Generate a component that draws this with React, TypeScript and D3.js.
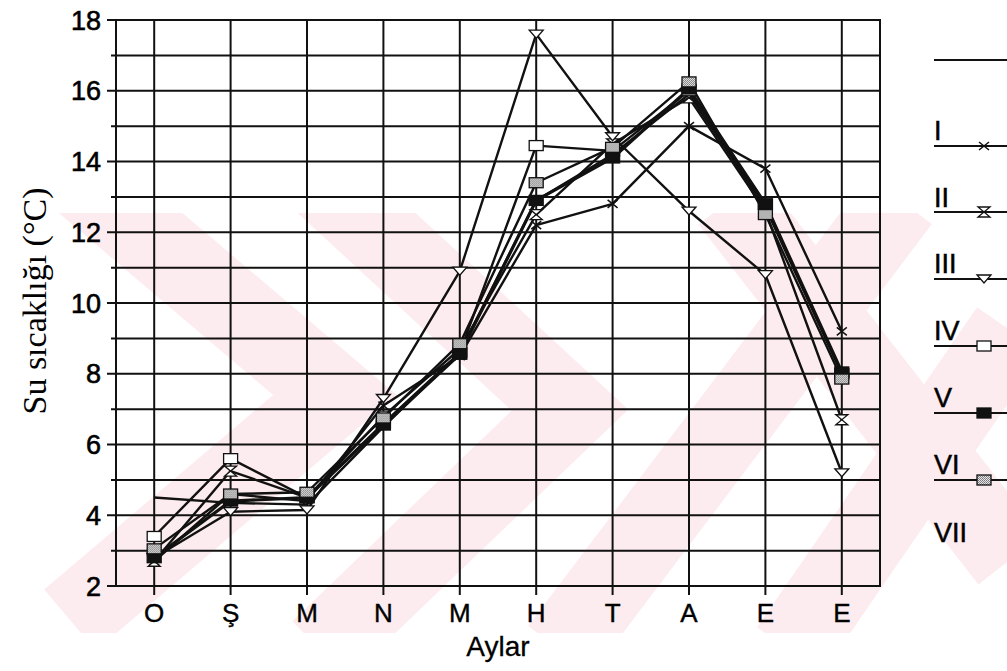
import React, { useEffect, useRef } from "react";
import * as d3 from "d3";

// aylar (Ekim -> Eylül)
const months = ["O", "Ş", "M", "N", "M", "H", "T", "A", "E", "E"];
const yTicks = [2, 4, 6, 8, 10, 12, 14, 16, 18];
const legendLabels = ["I", "II", "III", "IV", "V", "VI", "VII"];

// su sıcaklığı (°C) değerleri, istasyonlara göre
const plainLine = [4.5, 4.35, 4.3, 6.5, 8.6, 12.9, 14.2, 15.9, 12.7, 8.0];
const st1 = [2.7, 4.6, 4.4, 7.1, 8.5, 12.2, 12.8, 15.0, 13.8, 9.2];
const st2 = [2.7, 5.25, 4.5, 6.8, 8.7, 12.5, 14.5, 15.8, 12.6, 6.7];
const st3 = [2.8, 4.1, 4.15, 7.3, 10.9, 17.6, 14.7, 12.6, 10.8, 5.2];
const st4 = [3.4, 5.6, 4.5, 6.6, 8.6, 14.45, 14.3, 16.0, 12.8, 8.0];
const st5 = [2.8, 4.4, 4.5, 6.55, 8.55, 12.9, 14.1, 16.05, 12.8, 8.05];
const st6 = [3.05, 4.6, 4.65, 6.75, 8.85, 13.4, 14.4, 16.25, 12.5, 7.85];

const App = () => {
  const svgRef = useRef(null);

  useEffect(() => {
    const svg = d3.select(svgRef.current);
    svg.selectAll("*").remove();
    svg.attr("width", 1007).attr("height", 671);

    const left = 116, right = 880, top = 20, bottom = 586;
    const sans = "Liberation Sans, Arial, sans-serif";

    const x = d3.scalePoint().domain(d3.range(months.length).map(String)).range([left, right]).padding(0.5);
    const y = d3.scaleLinear().domain([2, 18]).range([bottom, top]);

    // gölgeli kare deseni
    const defs = svg.append("defs");
    const pat = defs.append("pattern")
      .attr("id", "shade").attr("width", 2).attr("height", 2)
      .attr("patternUnits", "userSpaceOnUse");
    pat.append("rect").attr("width", 2).attr("height", 2).attr("fill", "#e6e6e6");
    pat.append("rect").attr("width", 1).attr("height", 1).attr("fill", "#777");
    pat.append("rect").attr("x", 1).attr("y", 1).attr("width", 1).attr("height", 1).attr("fill", "#888");

    defs.append("clipPath").attr("id", "wmclip")
      .append("rect").attr("x", 0).attr("y", 213).attr("width", 1007).attr("height", 420);

    // arka plandaki soluk filigran
    const wm = svg.append("g").attr("clip-path", "url(#wmclip)")
      .attr("fill", "none").attr("stroke", "#fdecef").attr("stroke-width", 80);
    const wmLine = d3.line();
    wm.append("path").attr("d", wmLine([[70, 170], [335, 395], [70, 620]]));
    wm.append("path").attr("d", wmLine([[310, 170], [570, 410], [320, 650]]));
    wm.append("path").attr("d", wmLine([[560, 650], [900, 200]]));
    wm.append("path").attr("d", wmLine([[730, 200], [1010, 560]]));
    wm.append("path").attr("d", wmLine([[790, 650], [1010, 330]]));

    // ızgara
    const grid = svg.append("g").attr("stroke", "#111").attr("stroke-width", 2);
    d3.range(3, 18).forEach(v => {
      grid.append("line")
        .attr("x1", v % 2 === 0 ? left - 9 : left - 5).attr("x2", right)
        .attr("y1", y(v)).attr("y2", y(v));
    });
    grid.append("line").attr("x1", left - 9).attr("x2", left).attr("y1", y(18)).attr("y2", y(18));
    grid.append("line").attr("x1", left - 9).attr("x2", left).attr("y1", y(2)).attr("y2", y(2));
    months.forEach((m, i) => {
      grid.append("line")
        .attr("x1", x(String(i))).attr("x2", x(String(i)))
        .attr("y1", top).attr("y2", bottom + 9);
    });
    grid.append("rect")
      .attr("x", left).attr("y", top).attr("width", right - left).attr("height", bottom - top)
      .attr("fill", "none");

    // eksen yazıları
    svg.append("g").selectAll("text").data(yTicks).join("text")
      .attr("x", 101).attr("y", d => y(d))
      .attr("dy", "0.36em").attr("text-anchor", "end")
      .attr("font-family", sans).attr("font-size", 27)
      .attr("stroke", "#000").attr("stroke-width", 0.6)
      .text(d => d);

    svg.append("g").selectAll("text").data(months).join("text")
      .attr("x", (d, i) => x(String(i))).attr("y", 622)
      .attr("text-anchor", "middle")
      .attr("font-family", sans).attr("font-size", 26)
      .attr("stroke", "#000").attr("stroke-width", 0.4)
      .text(d => d);

    svg.append("text")
      .attr("x", (left + right) / 2).attr("y", 656)
      .attr("text-anchor", "middle")
      .attr("font-family", sans).attr("font-size", 28)
      .attr("stroke", "#000").attr("stroke-width", 0.3)
      .text("Aylar");

    svg.append("text")
      .attr("transform", `translate(46, ${(top + bottom) / 2 - 2}) rotate(-90)`)
      .attr("text-anchor", "middle")
      .attr("font-family", "Liberation Serif, Times New Roman, serif").attr("font-size", 34)
      .text("Su sıcaklığı (°C)");

    // işaretler
    const drawMarker = (g, type, cx, cy) => {
      const mg = g.append("g").attr("transform", `translate(${cx},${cy})`);
      if (type === "cross") {
        mg.append("path").attr("d", "M-5,-4L5,4M-5,4L5,-4").attr("stroke", "#111").attr("stroke-width", 1.5);
      } else if (type === "hourglass") {
        mg.append("path").attr("d", "M-6,-5H6L-6,5H6Z").attr("fill", "#fff").attr("stroke", "#111").attr("stroke-width", 1.3);
      } else if (type === "tri") {
        mg.append("path").attr("d", "M-7,-4H7L0,4Z").attr("fill", "#fff").attr("stroke", "#111").attr("stroke-width", 1.3);
      } else if (type === "open") {
        mg.append("rect").attr("x", -7).attr("y", -5).attr("width", 14).attr("height", 10)
          .attr("fill", "#fff").attr("stroke", "#111").attr("stroke-width", 1.3);
      } else if (type === "filled") {
        mg.append("rect").attr("x", -7).attr("y", -5).attr("width", 14).attr("height", 10)
          .attr("fill", "#111").attr("stroke", "#111").attr("stroke-width", 1.3);
      } else if (type === "shaded") {
        mg.append("rect").attr("x", -7).attr("y", -5).attr("width", 14).attr("height", 10)
          .attr("fill", "url(#shade)").attr("stroke", "#111").attr("stroke-width", 1.3);
      }
    };

    const series = [
      { values: plainLine, marker: "none", width: 2.4 },
      { values: st1, marker: "cross", width: 2.4 },
      { values: st2, marker: "hourglass", width: 2.4 },
      { values: st3, marker: "tri", width: 2.4 },
      { values: st4, marker: "open", width: 2.4 },
      { values: st5, marker: "filled", width: 3.2 },
      { values: st6, marker: "shaded", width: 2.4 },
    ];

    const line = d3.line()
      .x((d, i) => x(String(i)))
      .y(d => y(d));

    const linesG = svg.append("g");
    series.forEach(s => {
      linesG.append("path")
        .attr("d", line(s.values))
        .attr("fill", "none").attr("stroke", "#111").attr("stroke-width", s.width)
        .attr("stroke-linejoin", "round");
    });
    const marksG = svg.append("g");
    series.forEach(s => {
      if (s.marker === "none") return;
      s.values.forEach((v, i) => drawMarker(marksG, s.marker, x(String(i)), y(v)));
    });

    // lejant
    const lg = svg.append("g");
    const lx = 934;
    const lineYs = [60, 146, 212, 279, 346, 413, 480];
    const labelYs = [130, 197, 263, 330, 397, 464, 532];
    series.forEach((s, i) => {
      lg.append("line")
        .attr("x1", lx).attr("x2", 1007).attr("y1", lineYs[i]).attr("y2", lineYs[i])
        .attr("stroke", "#111").attr("stroke-width", 2);
      if (s.marker !== "none") drawMarker(lg, s.marker, 984, lineYs[i]);
    });
    legendLabels.forEach((l, i) => {
      lg.append("text")
        .attr("x", lx).attr("y", labelYs[i]).attr("dy", "0.36em")
        .attr("font-family", sans).attr("font-size", 27)
        .attr("stroke", "#000").attr("stroke-width", 0.5)
        .text(l);
    });
  }, []);

  return <svg ref={svgRef} style={{ position: "absolute", left: 0, top: 0 }}></svg>;
};

export default App;
